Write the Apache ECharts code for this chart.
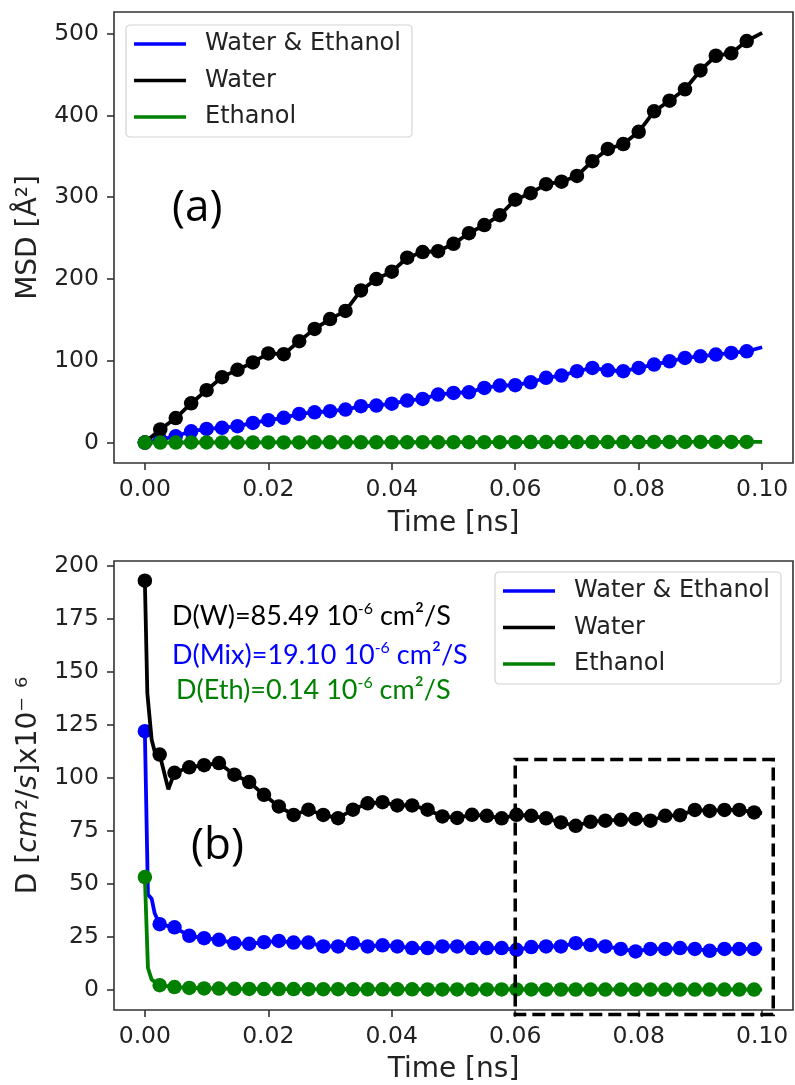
<!DOCTYPE html>
<html><head><meta charset="utf-8">
<script src="https://cdn.jsdelivr.net/npm/echarts@6/dist/echarts.min.js"></script>
<style>html,body{margin:0;padding:0;background:#fff}#c{width:795px;height:1085px}</style>
</head><body><div id="c"></div>
<script>
// ---------- data ----------
const seriesNames = ['Water & Ethanol', 'Water', 'Ethanol'];
const seriesColors = ['#0000ff', '#000000', '#008000'];
const xTicks = [0, 0.02, 0.04, 0.06, 0.08, 0.1];
const msdTicks = [0, 100, 200, 300, 400, 500];
const dTicks = [0, 25, 50, 75, 100, 125, 150, 175, 200];

// (a) MSD, marker points
const msdTime = [0, 0.0025, 0.005, 0.0075, 0.01, 0.0125, 0.015, 0.0175, 0.02, 0.0225, 0.025, 0.0275, 0.03, 0.0325, 0.035, 0.0375, 0.04, 0.0425, 0.045, 0.0475, 0.05, 0.0525, 0.055, 0.0575, 0.06, 0.0625, 0.065, 0.0675, 0.07, 0.0725, 0.075, 0.0775, 0.08, 0.0825, 0.085, 0.0875, 0.09, 0.0925, 0.095, 0.0975];
const msdMix = [0, 3.5, 7.7, 13.8, 16.7, 18, 20, 24, 27.3, 30.2, 35, 37, 38.3, 40.3, 44.4, 45.2, 47.5, 51.3, 53.4, 58.7, 60.7, 61.5, 66.8, 69.7, 70.1, 73.7, 79.1, 81.9, 87.2, 91.3, 88.4, 87.2, 91.3, 95.4, 99.4, 103.5, 105.5, 107.6, 109.6, 111.6];
const msdWater = [0, 16, 30, 48, 64, 80, 89, 98, 109, 108, 124, 139, 151, 161, 186, 200, 209, 226, 233, 234, 243, 256, 266, 278, 297, 305, 316, 319, 326, 344, 359, 365, 380, 405, 418, 432, 455, 473, 476, 491];
const msdEth = [0, 0.03, 0.05, 0.08, 0.09, 0.12, 0.14, 0.15, 0.18, 0.2, 0.21, 0.24, 0.27, 0.28, 0.3, 0.33, 0.34, 0.37, 0.38, 0.41, 0.43, 0.44, 0.47, 0.49, 0.5, 0.53, 0.55, 0.57, 0.58, 0.61, 0.63, 0.64, 0.67, 0.69, 0.7, 0.73, 0.74, 0.77, 0.79, 0.81];
// (a) line-only points (no marker)
const msdLineTime = [0.1];
const msdMixLine = [116.5];
const msdWaterLine = [501];
const msdEthLine = [0.83];

// (b) diffusion coefficient, marker points
const dTime = [0, 0.0024, 0.0048, 0.0072, 0.0096, 0.012, 0.0145, 0.0169, 0.0193, 0.0217, 0.0241, 0.0265, 0.0289, 0.0313, 0.0337, 0.0361, 0.0385, 0.0409, 0.0433, 0.0458, 0.0482, 0.0506, 0.053, 0.0554, 0.0578, 0.0602, 0.0626, 0.065, 0.0674, 0.0698, 0.0722, 0.0746, 0.0771, 0.0795, 0.0819, 0.0843, 0.0867, 0.0891, 0.0915, 0.0939, 0.0963, 0.0987];
const dMix = [122, 31, 29.5, 25.5, 24.4, 23.6, 22, 21.7, 22.5, 23.1, 22.3, 22.3, 20.5, 20.5, 22, 20.5, 21, 20.5, 19.7, 19.7, 20.5, 20.5, 19.7, 19.7, 19.7, 18.9, 20.2, 20.5, 20.5, 22, 21.2, 20.5, 19.3, 18.1, 19.3, 19.3, 19.7, 19.3, 18.4, 19.3, 19.3, 19.3];
const dWater = [193, 111, 102.4, 105, 106, 107, 101.5, 98, 92, 86.5, 82.5, 85, 82.5, 81, 85, 88, 88.5, 87, 87, 85, 81.8, 81.1, 82.6, 82.1, 80.9, 82.6, 82.1, 80.9, 79, 77.4, 79.3, 79.8, 80.2, 80.6, 79.8, 82.1, 82.4, 84.9, 84.4, 84.9, 84.9, 83.7];
const dEth = [53.2, 2.2, 1.3, 0.9, 0.7, 0.6, 0.5, 0.45, 0.4, 0.38, 0.35, 0.33, 0.3, 0.29, 0.28, 0.26, 0.25, 0.24, 0.23, 0.22, 0.21, 0.2, 0.2, 0.19, 0.19, 0.18, 0.18, 0.17, 0.17, 0.17, 0.16, 0.16, 0.16, 0.15, 0.15, 0.15, 0.15, 0.14, 0.14, 0.14, 0.14, 0.14];
// (b) line-only points (no marker)
const dMixLineTime = [0.0005, 0.0011, 0.0016, 0.1];
const dMixLine = [45, 43, 36, 19.5];
const dWaterLineTime = [0.0004, 0.0011, 0.0019, 0.0038, 0.1];
const dWaterLine = [140, 118, 109, 94.6, 83.5];
const dEthLineTime = [0.0005, 0.0011, 0.1];
const dEthLine = [10.3, 4.8, 0.14];

// dashed highlight box in (b): [t0, t1, y0, y1]
const zoomBox = [0.06, 0.1018, -11.6, 108.7];
// annotations in (b)
const annotations = [
  {label: 'D(W)=85.49 10', tail: ' cm²/S', color: '#000000'},
  {label: 'D(Mix)=19.10 10', tail: ' cm²/S', color: '#0000ff'},
  {label: 'D(Eth)=0.14 10', tail: ' cm²/S', color: '#008000'}
];

// ---------- chart ----------
const chart = echarts.init(document.getElementById('c'), null, {renderer: 'canvas'});
const TXT = '#222';
const SPINE = '#333';
const FONT = 'DejaVu Sans';

function buildData(mT, mV, lT, lV) {
  const out = mT.map((t, i) => ({value: [t, mV[i]]}));
  lT.forEach((t, i) => out.push({value: [t, lV[i]], symbol: 'none'}));
  out.sort((a, b) => a.value[0] - b.value[0]);
  return out;
}

function xAxis(gi, gap) {
  return {
    gridIndex: gi, type: 'value', min: -0.005, max: 0.105, position: 'bottom',
    axisLine: {show: false, onZero: false}, splitLine: {show: false},
    axisTick: {show: true, inside: false, length: 7, customValues: xTicks, lineStyle: {color: SPINE, width: 1.6}},
    axisLabel: {customValues: xTicks, formatter: v => v.toFixed(2), fontSize: 23.5, fontFamily: FONT, color: TXT, margin: 15},
    name: 'Time [ns]', nameLocation: 'middle', nameGap: gap,
    nameTextStyle: {fontSize: 28, fontFamily: FONT, color: TXT}
  };
}
function yAxis(gi, min, max, ticks, name, rich) {
  return {
    gridIndex: gi, type: 'value', min: min, max: max, position: 'left',
    axisLine: {show: false, onZero: false}, splitLine: {show: false},
    axisTick: {show: true, inside: false, length: 7, customValues: ticks, lineStyle: {color: SPINE, width: 1.6}},
    axisLabel: {customValues: ticks, fontSize: 23.5, fontFamily: FONT, color: TXT, margin: 15},
    name: name, nameLocation: 'middle', nameRotate: 90, nameGap: 71,
    nameTextStyle: {fontSize: 28, fontFamily: FONT, color: TXT, rich: rich}
  };
}

const panels = [
  {gi: 0, data: [[msdTime, msdMix, msdLineTime, msdMixLine], [msdTime, msdWater, msdLineTime, msdWaterLine], [msdTime, msdEth, msdLineTime, msdEthLine]]},
  {gi: 1, data: [[dTime, dMix, dMixLineTime, dMixLine], [dTime, dWater, dWaterLineTime, dWaterLine], [dTime, dEth, dEthLineTime, dEthLine]]}
];
const series = [];
panels.forEach(p => {
  p.data.forEach((d, k) => {
    series.push({
      type: 'line', name: seriesNames[k], xAxisIndex: p.gi, yAxisIndex: p.gi,
      data: buildData(d[0], d[1], d[2], d[3]),
      symbol: 'circle', symbolSize: 14.5, showSymbol: true, showAllSymbol: true,
      lineStyle: {color: seriesColors[k], width: 3.8},
      itemStyle: {color: seriesColors[k]},
      emphasis: {disabled: true}, animation: false, z: 2 + k
    });
  });
});

function legend(left, top) {
  return {
    left: left, top: top, orient: 'vertical', data: seriesNames, selectedMode: false,
    icon: 'rect', itemWidth: 52, itemHeight: 3.5, itemGap: 12.5,
    textStyle: {fontSize: 24, fontFamily: FONT, color: TXT, lineHeight: 24, padding: [0, 0, 0, 14]},
    backgroundColor: 'rgba(255,255,255,0.8)', borderColor: '#d3d3d3', borderWidth: 1.2, borderRadius: 4,
    padding: [7, 11, 8, 8]
  };
}

const option = {
  animation: false,
  backgroundColor: '#ffffff',
  grid: [
    {left: 114, top: 12, width: 679, height: 451, show: true, borderColor: SPINE, borderWidth: 1.6, backgroundColor: 'transparent'},
    {left: 114, top: 561, width: 679, height: 451, show: true, borderColor: SPINE, borderWidth: 1.6, backgroundColor: 'transparent'}
  ],
  xAxis: [xAxis(0, 47), xAxis(1, 46)],
  yAxis: [
    yAxis(0, -25, 526.5, msdTicks, 'MSD [Å²]', {}),
    yAxis(1, -9.5, 202.3, dTicks, '{n|D [}{i|cm}{n|²/}{i|s}{n|]x10}{n|⁻ ⁶}', {
      n: {fontSize: 28, fontFamily: FONT, color: TXT},
      i: {fontSize: 28, fontFamily: FONT, fontStyle: 'italic', color: TXT}
    })
  ],
  legend: [legend(126, 25), legend(495, 572)],
  series: series
};
chart.setOption(option);

// overlay: panel labels, annotations, dashed box
const p0 = chart.convertToPixel({gridIndex: 1}, [zoomBox[0], zoomBox[3]]);
const p1 = chart.convertToPixel({gridIndex: 1}, [zoomBox[1], zoomBox[2]]);
const annTops = [601, 640, 675];
const annLefts = [172, 172, 176];
const graphics = [
  {type: 'text', left: 172, top: 186, z: 50, style: {text: '(a)', fontSize: 44, fontFamily: 'Open Sans', fill: '#000'}},
  {type: 'text', left: 191, top: 824, z: 50, style: {text: '(b)', fontSize: 44, fontFamily: 'Open Sans', fill: '#000'}},
  {type: 'rect', z: 60, shape: {x: p0[0], y: p0[1], width: p1[0] - p0[0], height: p1[1] - p0[1]},
   style: {fill: 'none', stroke: '#000', lineWidth: 3.5, lineDash: [13, 6]}}
];
annotations.forEach((a, i) => {
  graphics.push({
    type: 'text', left: annLefts[i], top: annTops[i], z: 50,
    style: {
      text: '{n|' + a.label + '}{s|-6}{n|' + a.tail + '}',
      rich: {
        n: {fontSize: 27, fontFamily: 'Lato', fill: a.color, lineHeight: 30},
        s: {fontSize: 16, fontFamily: 'Lato', fill: a.color, lineHeight: 16, verticalAlign: 'top'}
      }
    }
  });
});
chart.setOption({graphic: graphics});
</script>
</body></html>
